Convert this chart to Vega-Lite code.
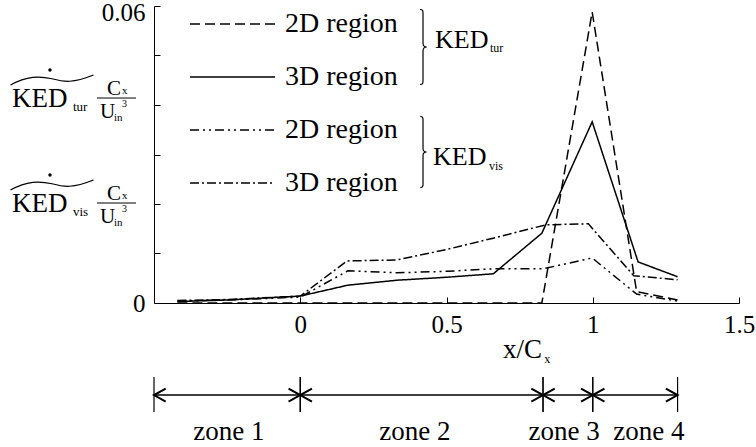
{
  "$schema": "https://vega.github.io/schema/vega-lite/v6.json",
  "width": 585,
  "height": 297,
  "autosize": "none",
  "padding": {"left": 154, "top": 6, "right": 17, "bottom": 144},
  "config": {
    "font": "Liberation Serif",
    "view": {"stroke": null},
    "text": {"font": "Liberation Serif", "color": "black", "align": "left", "baseline": "alphabetic"},
    "axis": {"labelFont": "Liberation Serif"},
    "legend": {"labelFont": "Liberation Serif"}
  },
  "datasets": {
    "series": [
      {"series": "2D tur", "x": -0.42, "y": 0},
      {"series": "2D tur", "x": -0.25, "y": 0},
      {"series": "2D tur", "x": 0, "y": 0},
      {"series": "2D tur", "x": 0.163, "y": 0},
      {"series": "2D tur", "x": 0.33, "y": 0},
      {"series": "2D tur", "x": 0.5, "y": 0},
      {"series": "2D tur", "x": 0.66, "y": 0},
      {"series": "2D tur", "x": 0.826, "y": 0},
      {"series": "2D tur", "x": 0.998, "y": 0.0588},
      {"series": "2D tur", "x": 1.15, "y": 0.0023},
      {"series": "2D tur", "x": 1.29, "y": 0.0006},
      {"series": "3D tur", "x": -0.42, "y": 0.0003},
      {"series": "3D tur", "x": -0.25, "y": 0.0006},
      {"series": "3D tur", "x": 0, "y": 0.0014},
      {"series": "3D tur", "x": 0.163, "y": 0.0036},
      {"series": "3D tur", "x": 0.33, "y": 0.0046},
      {"series": "3D tur", "x": 0.5, "y": 0.0052},
      {"series": "3D tur", "x": 0.66, "y": 0.0059},
      {"series": "3D tur", "x": 0.826, "y": 0.0141},
      {"series": "3D tur", "x": 0.998, "y": 0.0366},
      {"series": "3D tur", "x": 1.155, "y": 0.0083},
      {"series": "3D tur", "x": 1.29, "y": 0.0053},
      {"series": "2D vis", "x": -0.42, "y": 0.0004},
      {"series": "2D vis", "x": -0.25, "y": 0.0006},
      {"series": "2D vis", "x": 0, "y": 0.0012},
      {"series": "2D vis", "x": 0.163, "y": 0.0065},
      {"series": "2D vis", "x": 0.33, "y": 0.0061},
      {"series": "2D vis", "x": 0.5, "y": 0.0064},
      {"series": "2D vis", "x": 0.66, "y": 0.0069},
      {"series": "2D vis", "x": 0.83, "y": 0.0069},
      {"series": "2D vis", "x": 0.998, "y": 0.0091},
      {"series": "2D vis", "x": 1.15, "y": 0.0018},
      {"series": "2D vis", "x": 1.29, "y": 0.0004},
      {"series": "3D vis", "x": -0.42, "y": 0.0005},
      {"series": "3D vis", "x": -0.25, "y": 0.0007},
      {"series": "3D vis", "x": 0, "y": 0.0014},
      {"series": "3D vis", "x": 0.16, "y": 0.0085},
      {"series": "3D vis", "x": 0.33, "y": 0.0087},
      {"series": "3D vis", "x": 0.5, "y": 0.0108},
      {"series": "3D vis", "x": 0.66, "y": 0.0131},
      {"series": "3D vis", "x": 0.84, "y": 0.0158},
      {"series": "3D vis", "x": 0.985, "y": 0.016},
      {"series": "3D vis", "x": 1.14, "y": 0.0055},
      {"series": "3D vis", "x": 1.29, "y": 0.0047}
    ],
    "zones": [
      {"zone": "zone 1", "start": -0.5, "end": 0, "lx": -0.244},
      {"zone": "zone 2", "start": 0, "end": 0.83, "lx": 0.392},
      {"zone": "zone 3", "start": 0.83, "end": 1.0, "lx": 0.902},
      {"zone": "zone 4", "start": 1.0, "end": 1.29, "lx": 1.192}
    ],
    "one": [{}]
  },
  "layer": [
    {
      "data": {"name": "series"},
      "mark": {"type": "line", "color": "black", "strokeWidth": 1.5},
      "encoding": {
        "x": {
          "field": "x", "type": "quantitative",
          "scale": {"domain": [-0.5, 1.5], "nice": false, "zero": false},
          "axis": {
            "title": null, "values": [0, 0.5, 1, 1.5], "format": "~g",
            "tickSize": -6, "labelPadding": 15, "grid": false,
            "domainColor": "black", "tickColor": "black", "labelColor": "black",
            "labelFont": "Liberation Serif", "labelFontSize": 25, "labelFlush": false
          }
        },
        "y": {
          "field": "y", "type": "quantitative",
          "scale": {"domain": [0, 0.06], "nice": false, "zero": false},
          "axis": {
            "title": null, "values": [0, 0.01, 0.02, 0.03, 0.04, 0.05, 0.06],
            "labelExpr": "datum.value == 0 ? '0' : (datum.value > 0.059 ? '0.06' : '')",
            "tickSize": -6, "labelPadding": 15, "grid": false,
            "domainColor": "black", "tickColor": "black", "labelColor": "black",
            "labelFont": "Liberation Serif", "labelFontSize": 25, "labelFlush": false,
            "labelBaseline": "middle",
            "labelOffset": {"condition": {"test": "datum.value > 0.059", "value": 6}, "value": 0}
          }
        },
        "strokeDash": {
          "field": "series", "type": "nominal",
          "scale": {
            "domain": ["2D tur", "3D tur", "2D vis", "3D vis"],
            "range": [[10, 5], [1, 0], [9, 4, 2, 4, 2, 4], [9, 3, 2, 3]]
          },
          "legend": {
            "orient": "none", "legendX": 35, "legendY": 3, "title": null,
            "symbolType": "stroke", "symbolSize": 7225, "symbolStrokeWidth": 1.5,
            "symbolStrokeColor": "black", "labelFont": "Liberation Serif", "labelFontSize": 28,
            "labelColor": "black",
            "labelExpr": "indexof(datum.label, '2D') == 0 ? '2D region' : '3D region'",
            "clipHeight": 30, "rowPadding": 23, "labelOffset": 9, "padding": 0
          }
        }
      }
    },
    {
      "data": {"name": "zones"},
      "mark": {"type": "rule", "color": "black", "strokeWidth": 1.5},
      "encoding": {"x": {"field": "start", "type": "quantitative"}, "x2": {"field": "end"}, "y": {"datum": -0.01859}}
    },
    {
      "data": {"name": "zones"},
      "mark": {"type": "rule", "color": "black", "strokeWidth": 1.2},
      "encoding": {"x": {"field": "start", "type": "quantitative"}, "y": {"datum": -0.01495}, "y2": {"datum": -0.02202}}
    },
    {
      "data": {"name": "zones"},
      "mark": {"type": "rule", "color": "black", "strokeWidth": 1.2},
      "encoding": {"x": {"field": "end", "type": "quantitative"}, "y": {"datum": -0.01495}, "y2": {"datum": -0.02202}}
    },
    {
      "data": {"name": "zones"},
      "mark": {"type": "point", "shape": "M1.8,-1L0,0L1.8,1", "size": 169, "filled": false, "color": "black", "strokeWidth": 2, "opacity": 1},
      "encoding": {"x": {"field": "start", "type": "quantitative"}, "y": {"datum": -0.01859}}
    },
    {
      "data": {"name": "zones"},
      "mark": {"type": "point", "shape": "M-1.8,-1L0,0L-1.8,1", "size": 169, "filled": false, "color": "black", "strokeWidth": 2, "opacity": 1},
      "encoding": {"x": {"field": "end", "type": "quantitative"}, "y": {"datum": -0.01859}}
    },
    {
      "data": {"name": "zones"},
      "mark": {"type": "text", "font": "Liberation Serif", "fontSize": 27, "align": "center"},
      "encoding": {"x": {"field": "lx", "type": "quantitative"}, "y": {"datum": -0.02768}, "text": {"field": "zone"}}
    },
    {"data": {"name": "one"}, "mark": {"type": "text", "font": "Liberation Serif", "text": "x/C", "fontSize": 27}, "encoding": {"x": {"datum": 0.693}, "y": {"datum": -0.01111}}},
    {"data": {"name": "one"}, "mark": {"type": "text", "font": "Liberation Serif", "text": "x", "fontSize": 12}, "encoding": {"x": {"datum": 0.834}, "y": {"datum": -0.01212}}},

    {"data": {"name": "one"}, "mark": {"type": "point", "shape": "M-0.08,-1C0,-1 0,-0.97 0,-0.88L0,-0.1C0,-0.03 0.04,0 0.1,0C0.04,0 0,0.03 0,0.1L0,0.88C0,0.97 0,1 -0.08,1", "size": 5625, "filled": false, "color": "black", "strokeWidth": 1.2, "opacity": 1}, "encoding": {"x": {"datum": 0.4197}, "y": {"datum": 0.05172}}},
    {"data": {"name": "one"}, "mark": {"type": "point", "shape": "M-0.08,-1C0,-1 0,-0.97 0,-0.88L0,-0.1C0,-0.03 0.04,0 0.1,0C0.04,0 0,0.03 0,0.1L0,0.88C0,0.97 0,1 -0.08,1", "size": 5041, "filled": false, "color": "black", "strokeWidth": 1.2, "opacity": 1}, "encoding": {"x": {"datum": 0.4197}, "y": {"datum": 0.03051}}},
    {"data": {"name": "one"}, "mark": {"type": "text", "font": "Liberation Serif", "text": "KED", "fontSize": 26}, "encoding": {"x": {"datum": 0.4607}, "y": {"datum": 0.05152}}},
    {"data": {"name": "one"}, "mark": {"type": "text", "font": "Liberation Serif", "text": "tur", "fontSize": 12}, "encoding": {"x": {"datum": 0.6487}, "y": {"datum": 0.05071}}},
    {"data": {"name": "one"}, "mark": {"type": "text", "font": "Liberation Serif", "text": "KED", "fontSize": 26}, "encoding": {"x": {"datum": 0.4538}, "y": {"datum": 0.02788}}},
    {"data": {"name": "one"}, "mark": {"type": "text", "font": "Liberation Serif", "text": "vis", "fontSize": 12}, "encoding": {"x": {"datum": 0.6453}, "y": {"datum": 0.02687}}},

    {"data": {"name": "one"}, "mark": {"type": "point", "shape": "M-1,0.12C-0.6,-0.1 -0.3,-0.1 0,-0.03C0.3,0.05 0.5,0.08 1,-0.12", "size": 6889, "filled": false, "color": "black", "strokeWidth": 1.2, "opacity": 1}, "encoding": {"x": {"datum": -0.8487}, "y": {"datum": 0.04505}}},
    {"data": {"name": "one"}, "mark": {"type": "point", "shape": "circle", "size": 12, "filled": true, "color": "black", "opacity": 1}, "encoding": {"x": {"datum": -0.8556}, "y": {"datum": 0.04707}}},
    {"data": {"name": "one"}, "mark": {"type": "text", "font": "Liberation Serif", "text": "KED", "fontSize": 27}, "encoding": {"x": {"datum": -0.9855}, "y": {"datum": 0.0396}}},
    {"data": {"name": "one"}, "mark": {"type": "text", "font": "Liberation Serif", "text": "tur", "fontSize": 13}, "encoding": {"x": {"datum": -0.7769}, "y": {"datum": 0.03879}}},
    {"data": {"name": "one"}, "mark": {"type": "text", "font": "Liberation Serif", "text": "C", "fontSize": 21}, "encoding": {"x": {"datum": -0.6607}, "y": {"datum": 0.04202}}},
    {"data": {"name": "one"}, "mark": {"type": "text", "font": "Liberation Serif", "text": "x", "fontSize": 11}, "encoding": {"x": {"datum": -0.6094}, "y": {"datum": 0.04222}}},
    {"data": {"name": "one"}, "mark": {"type": "rule", "color": "black", "strokeWidth": 1}, "encoding": {"x": {"datum": -0.6949}, "x2": {"datum": -0.5615}, "y": {"datum": 0.04141}}},
    {"data": {"name": "one"}, "mark": {"type": "text", "font": "Liberation Serif", "text": "U", "fontSize": 21}, "encoding": {"x": {"datum": -0.6846}, "y": {"datum": 0.03737}}},
    {"data": {"name": "one"}, "mark": {"type": "text", "font": "Liberation Serif", "text": "in", "fontSize": 11}, "encoding": {"x": {"datum": -0.6368}, "y": {"datum": 0.03677}}},
    {"data": {"name": "one"}, "mark": {"type": "text", "font": "Liberation Serif", "text": "3", "fontSize": 10}, "encoding": {"x": {"datum": -0.6094}, "y": {"datum": 0.0396}}},

    {"data": {"name": "one"}, "mark": {"type": "point", "shape": "M-1,0.12C-0.6,-0.1 -0.3,-0.1 0,-0.03C0.3,0.05 0.5,0.08 1,-0.12", "size": 6889, "filled": false, "color": "black", "strokeWidth": 1.2, "opacity": 1}, "encoding": {"x": {"datum": -0.8487}, "y": {"datum": 0.02384}}},
    {"data": {"name": "one"}, "mark": {"type": "point", "shape": "circle", "size": 12, "filled": true, "color": "black", "opacity": 1}, "encoding": {"x": {"datum": -0.8556}, "y": {"datum": 0.02586}}},
    {"data": {"name": "one"}, "mark": {"type": "text", "font": "Liberation Serif", "text": "KED", "fontSize": 27}, "encoding": {"x": {"datum": -0.9855}, "y": {"datum": 0.01839}}},
    {"data": {"name": "one"}, "mark": {"type": "text", "font": "Liberation Serif", "text": "vis", "fontSize": 13}, "encoding": {"x": {"datum": -0.7769}, "y": {"datum": 0.01758}}},
    {"data": {"name": "one"}, "mark": {"type": "text", "font": "Liberation Serif", "text": "C", "fontSize": 21}, "encoding": {"x": {"datum": -0.6607}, "y": {"datum": 0.02081}}},
    {"data": {"name": "one"}, "mark": {"type": "text", "font": "Liberation Serif", "text": "x", "fontSize": 11}, "encoding": {"x": {"datum": -0.6094}, "y": {"datum": 0.02101}}},
    {"data": {"name": "one"}, "mark": {"type": "rule", "color": "black", "strokeWidth": 1}, "encoding": {"x": {"datum": -0.6949}, "x2": {"datum": -0.5615}, "y": {"datum": 0.0202}}},
    {"data": {"name": "one"}, "mark": {"type": "text", "font": "Liberation Serif", "text": "U", "fontSize": 21}, "encoding": {"x": {"datum": -0.6846}, "y": {"datum": 0.01616}}},
    {"data": {"name": "one"}, "mark": {"type": "text", "font": "Liberation Serif", "text": "in", "fontSize": 11}, "encoding": {"x": {"datum": -0.6368}, "y": {"datum": 0.01556}}},
    {"data": {"name": "one"}, "mark": {"type": "text", "font": "Liberation Serif", "text": "3", "fontSize": 10}, "encoding": {"x": {"datum": -0.6094}, "y": {"datum": 0.01838}}}
  ]
}
